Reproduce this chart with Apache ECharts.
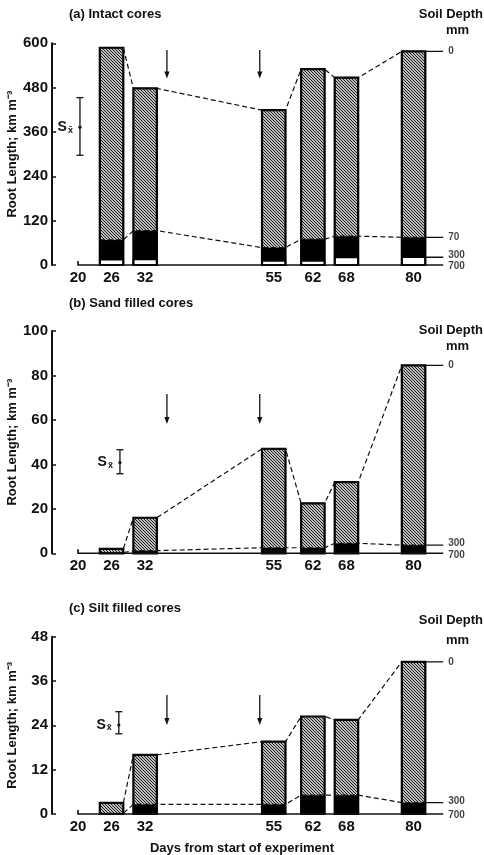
<!DOCTYPE html>
<html>
<head>
<meta charset="utf-8">
<script src="https://cdn.jsdelivr.net/npm/echarts@6/dist/echarts.min.js"></script>
<style>
html,body{margin:0;padding:0;background:#fff;}
#c{width:484px;height:855px;}
</style>
</head>
<body>
<div id="c"></div>
<script>
// ---------------- data ----------------
const days = [26, 32, 55, 62, 68, 80];
const xTickDays = [20, 26, 32, 55, 62, 68, 80];

// (a) intact cores: cumulative tops of layers 0-70, 70-300, 300-700 mm
const aTop = [588, 478, 419, 530, 507, 578];
const a70 = [68, 93, 47, 70, 78, 75];
const a300 = [14, 15, 11, 11, 20, 21];
// (b) sand filled cores: cumulative tops of layers 0-300, 300-700 mm
const bTop = [2, 16, 47, 22.5, 32, 84.5];
const b300 = [0.3, 1.2, 2.5, 2.5, 4.5, 3.7];
// (c) silt filled cores
const cTop = [3, 16, 19.6, 26.4, 25.5, 41.2];
const c300 = [0.2, 2.6, 2.6, 5.1, 5.1, 3.1];

const depthLabelsA = ['0', '70', '300', '700'];
const depthLabelsBC = ['0', '300', '700'];

const yMax = [600, 100, 48];
const yStep = [120, 20, 12];

// standard error bars: [day, low, high, mean]
const errA = [20.35, 297, 453, 373];
const errB = [27.5, 35.8, 46.6, 40.8];
const errC = [27.3, 21.7, 27.7, 24.1];

// arrows: days and [top, bottom] per panel
const arrowDays = [35.9, 52.5];
const arrowA = [582, 505];
const arrowB = [71.7, 58.2];
const arrowC = [32.2, 24.1];

const panelTitles = ['(a) Intact cores', '(b) Sand filled cores', '(c) Silt filled cores'];
const yName = 'Root Length; km m\u207B\u00B3';
const xName = 'Days from start of experiment';

// ---------------- layout / style ----------------
const HW = 2.1;          // half bar width in days
const X_MIN = 15.35, X_MAX = 88, X_START = 20, X_END = 85.3;
const FONT = '"Liberation Sans", Arial, Helvetica, sans-serif';
const INK = '#111';
const grids = [
  {left: 52, top: 43.3, width: 406.3, height: 221.7, outerBoundsMode: 'none', containLabel: false},
  {left: 52, top: 331, width: 406.3, height: 222.3, outerBoundsMode: 'none', containLabel: false},
  {left: 52, top: 636.7, width: 406.3, height: 177.3, outerBoundsMode: 'none', containLabel: false}
];

// hatch pattern
const pc = document.createElement('canvas');
const S = 3;
pc.width = S; pc.height = S;
const g = pc.getContext('2d');
g.fillStyle = '#fff'; g.fillRect(0, 0, S, S);
g.strokeStyle = '#151515'; g.lineWidth = 1.1;
[-S, 0, S].forEach(o => { g.beginPath(); g.moveTo(o - 1, -1); g.lineTo(o + S + 1, S + 1); g.stroke(); });
const hatch = {image: pc, repeat: 'repeat'};

function barItem(params, api) {
  const d = api.value(0), top = api.value(1), mid = api.value(2), low = api.value(3);
  const x0 = api.coord([d - HW, 0])[0], x1 = api.coord([d + HW, 0])[0];
  const y0 = api.coord([d, 0])[1];
  const yT = api.coord([d, top])[1], yM = api.coord([d, mid])[1], yL = api.coord([d, low])[1];
  const w = x1 - x0;
  return {type: 'group', children: [
    {type: 'rect', shape: {x: x0, y: yT, width: w, height: yM - yT}, style: {fill: hatch, stroke: null}},
    {type: 'rect', shape: {x: x0, y: yM, width: w, height: yL - yM}, style: {fill: '#000'}},
    {type: 'rect', shape: {x: x0, y: yL, width: w, height: y0 - yL}, style: {fill: '#fff', stroke: '#000', lineWidth: 1.5}},
    {type: 'rect', shape: {x: x0, y: yT, width: w, height: y0 - yT}, style: {fill: null, stroke: '#000', lineWidth: 2.2}}
  ]};
}

function errItem(params, api) {
  const x = api.value(0);
  const pL = api.coord([x, api.value(1)]), pH = api.coord([x, api.value(2)]), pM = api.coord([x, api.value(3)]);
  return {type: 'group', children: [
    {type: 'line', shape: {x1: pL[0], y1: pL[1], x2: pH[0], y2: pH[1]}, style: {stroke: INK, lineWidth: 1.3}},
    {type: 'line', shape: {x1: pL[0] - 3.5, y1: pL[1], x2: pL[0] + 3.5, y2: pL[1]}, style: {stroke: INK, lineWidth: 1.3}},
    {type: 'line', shape: {x1: pH[0] - 3.5, y1: pH[1], x2: pH[0] + 3.5, y2: pH[1]}, style: {stroke: INK, lineWidth: 1.3}},
    {type: 'circle', shape: {cx: pM[0], cy: pM[1], r: 1.6}, style: {fill: INK}},
    {type: 'text', style: {x: pM[0] - 7, y: pM[1], text: 'S{s|x\u0304}', align: 'right', verticalAlign: 'middle',
      font: 'bold 14px ' + FONT, fill: INK,
      rich: {s: {fontSize: 9, fontWeight: 'bold', fontFamily: FONT, padding: [6, 0, 0, 1], fill: INK}}}}
  ]};
}

function arrowItem(params, api) {
  const x = api.value(0);
  const pT = api.coord([x, api.value(1)]), pB = api.coord([x, api.value(2)]);
  return {type: 'group', children: [
    {type: 'line', shape: {x1: pT[0], y1: pT[1], x2: pB[0], y2: pB[1] - 4}, style: {stroke: INK, lineWidth: 1.3}},
    {type: 'polygon', shape: {points: [[pB[0] - 2.6, pB[1] - 7], [pB[0] + 2.6, pB[1] - 7], [pB[0], pB[1]]]}, style: {fill: INK}}
  ]};
}

function baseItem(params, api) {
  const p0 = api.coord([api.value(0), 0]), p1 = api.coord([api.value(1), 0]);
  return {type: 'polyline', shape: {points: [[p0[0], p0[1] - 4], [p0[0], p0[1]], [p1[0], p1[1]]]},
    style: {stroke: INK, lineWidth: 1.6, fill: null}};
}

const xAxis = [], yAxis = [], series = [];
const panels = [
  {tops: aTop, mids: a70, lows: a300, err: errA, arr: arrowA, labels: depthLabelsA},
  {tops: bTop, mids: b300, lows: null, err: errB, arr: arrowB, labels: depthLabelsBC},
  {tops: cTop, mids: c300, lows: null, err: errC, arr: arrowC, labels: depthLabelsBC}
];

panels.forEach((p, k) => {
  xAxis.push({
    type: 'value', gridIndex: k, min: X_MIN, max: X_MAX,
    axisLine: {show: false}, axisTick: {show: false}, splitLine: {show: false},
    axisLabel: {customValues: xTickDays, color: INK, fontSize: 15, fontWeight: 'bold', fontFamily: FONT, margin: 5}
  });
  yAxis.push({
    type: 'value', gridIndex: k, min: 0, max: yMax[k], interval: yStep[k],
    name: yName, nameLocation: 'middle', nameGap: 33, nameMoveOverlap: false,
    nameTextStyle: {color: INK, fontSize: 13, fontWeight: 'bold', fontFamily: FONT},
    axisLine: {show: true, lineStyle: {color: INK, width: 2}},
    axisTick: {show: true, inside: true, length: 4, lineStyle: {color: INK, width: 1.5}},
    splitLine: {show: false},
    axisLabel: {color: INK, fontSize: 15, fontWeight: 'bold', fontFamily: FONT, margin: 4}
  });
  const lows = p.lows || days.map(() => 0);
  const barData = days.map((d, i) => [d, p.tops[i], p.mids[i], lows[i]]);
  series.push({type: 'custom', xAxisIndex: k, yAxisIndex: k, renderItem: barItem, data: barData, z: 2, silent: true});

  // dashed connecting lines (top and lower boundaries)
  [p.tops, p.mids].forEach(arr => {
    const pts = [];
    days.forEach((d, i) => { pts.push([d - HW, arr[i]]); pts.push([d + HW, arr[i]]); });
    series.push({type: 'line', xAxisIndex: k, yAxisIndex: k, data: pts, symbol: 'none', z: 3, silent: true,
      lineStyle: {color: INK, width: 1.2, type: [5, 3]}});
  });

  // solid lines at right to depth labels
  const last = days.length - 1;
  const edgeVals = p.lows ? [p.tops[last], p.mids[last], p.lows[last]] : [p.tops[last], p.mids[last]];
  edgeVals.forEach(v => {
    series.push({type: 'line', xAxisIndex: k, yAxisIndex: k, data: [[days[last] + HW, v], [X_END, v]],
      symbol: 'none', z: 3, silent: true, lineStyle: {color: INK, width: 1.3}});
  });
  // baseline
  series.push({type: 'custom', xAxisIndex: k, yAxisIndex: k, renderItem: baseItem, data: [[X_START, X_END]], z: 3, silent: true});

  // depth labels
  const labVals = edgeVals.concat([0]);
  const n = labVals.length;
  series.push({type: 'scatter', xAxisIndex: k, yAxisIndex: k, symbolSize: 0, silent: true, z: 4,
    data: labVals.map((v, i) => ({value: [X_END, v], name: p.labels[i],
      label: {offset: [0, i === n - 1 ? 1.5 : (i === n - 2 ? -1.5 : 0)]}})),
    label: {show: true, position: 'right', distance: 5, formatter: '{b}', color: INK, fontSize: 10, fontWeight: 'bold', fontFamily: FONT}});

  // error bar
  series.push({type: 'custom', xAxisIndex: k, yAxisIndex: k, renderItem: errItem, data: [p.err], z: 4, silent: true});
  // arrows
  series.push({type: 'custom', xAxisIndex: k, yAxisIndex: k, renderItem: arrowItem,
    data: arrowDays.map(d => [d, p.arr[0], p.arr[1]]), z: 4, silent: true});
});

const tStyle = {color: INK, fontSize: 13, fontWeight: 'bold', fontFamily: FONT};
const titleTops = [[8, 8, 24], [297, 324, 340], [602, 614, 634]];
const titles = [];
panelTitles.forEach((t, k) => {
  titles.push({text: t, left: 69, top: titleTops[k][0], textStyle: tStyle, padding: 0});
  titles.push({text: 'Soil Depth', right: 1, top: titleTops[k][1], textStyle: tStyle, padding: 0});
  titles.push({text: 'mm', left: 446, top: titleTops[k][2], textStyle: tStyle, padding: 0});
});
titles.push({text: xName, left: 'center', top: 842, textStyle: tStyle, padding: 0});

const chart = echarts.init(document.getElementById('c'), null, {renderer: 'canvas'});
chart.setOption({
  backgroundColor: '#fff',
  animation: false,
  title: titles,
  grid: grids,
  xAxis: xAxis,
  yAxis: yAxis,
  series: series
});
</script>
</body>
</html>
